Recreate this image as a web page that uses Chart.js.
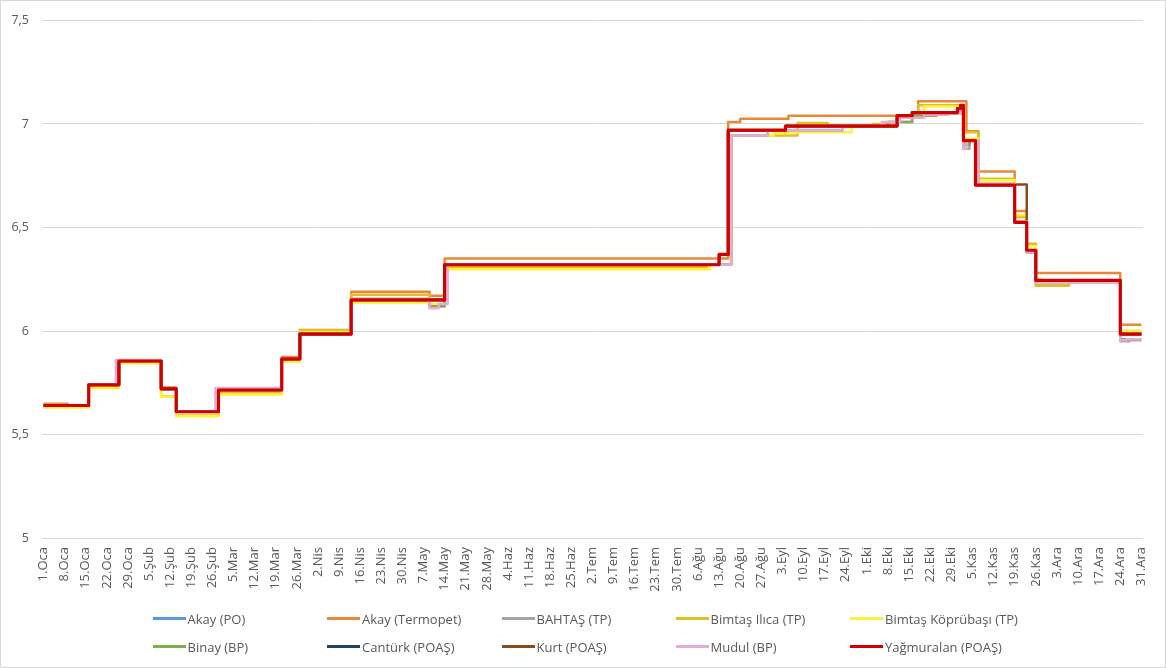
<!DOCTYPE html>
<html lang="tr">
<head>
<meta charset="utf-8">
<script src="https://cdn.jsdelivr.net/npm/chart.js@4.4.1/dist/chart.umd.min.js"></script>
<style>
  html, body { margin: 0; padding: 0; background: #ffffff; }
  #wrap { position: relative; width: 1166px; height: 668px; overflow: hidden; }
  #c { position: absolute; left: 0; top: 0; }
  #frame { position: absolute; left: 0; top: 0; width: 1166px; height: 668px; box-sizing: border-box; border: 1px solid #D9D9D9; pointer-events: none; }
  .lg { position: absolute; height: 18px; display: flex; align-items: center; font-family: "Open Sans", sans-serif; font-size: 13px; color: #595959; white-space: nowrap; }
  .lg i { display: inline-block; width: 33px; height: 2.5px; margin-right: 2px; }
</style>
</head>
<body>
<div id="wrap">
  <canvas id="c" width="1166" height="668"></canvas>
  <div id="legend"></div>
  <div id="frame"></div>
</div>
<script>
// ---- Tick labels (one every 7 days, day index 0 = 1.Oca) ----
const tickLabels = ['1.Oca','8.Oca','15.Oca','22.Oca','29.Oca','5.Şub','12.Şub','19.Şub','26.Şub',
  '5.Mar','12.Mar','19.Mar','26.Mar','2.Nis','9.Nis','16.Nis','23.Nis','30.Nis','7.May','14.May',
  '21.May','28.May','4.Haz','11.Haz','18.Haz','25.Haz','2.Tem','9.Tem','16.Tem','23.Tem','30.Tem',
  '6.Ağu','13.Ağu','20.Ağu','27.Ağu','3.Eyl','10.Eyl','17.Eyl','24.Eyl','1.Eki','8.Eki','15.Eki',
  '22.Eki','29.Eki','5.Kas','12.Kas','19.Kas','26.Kas','3.Ara','10.Ara','17.Ara','24.Ara','31.Ara'];
const tickDays = tickLabels.map((_, i) => i * 7);

// ---- Series: [day index, price] at each price change ----
const akayPO = [[0,5.64],[15,5.74],[25,5.855],[39,5.72],[44,5.61],[58,5.715],[79,5.865],[85,5.985],[102,6.15],[133,6.32],[224,6.37],[227,6.97],[246,6.99],[283,7.04],[288,7.055],[303,7.075],[304,7.09],[305,6.92],[309,6.705],[322,6.525],[326,6.39],[329,6.245],[357,5.985],[364,5.985]];
const akayTermopet = [[0,5.648],[8,5.64],[15,5.742],[25,5.857],[39,5.722],[44,5.612],[58,5.717],[79,5.875],[85,6.005],[102,6.19],[128,6.17],[133,6.35],[227,7.01],[231,7.025],[247,7.04],[290,7.11],[306,6.965],[310,6.77],[322,6.58],[326,6.42],[329,6.28],[357,6.03],[364,6.03]];
const bahtas = [[0,5.64],[15,5.74],[25,5.855],[39,5.72],[44,5.61],[58,5.72],[79,5.865],[85,5.99],[102,6.155],[128,6.12],[133,6.32],[228,6.945],[240,6.97],[265,6.99],[280,7.01],[288,7.04],[296,7.05],[304,7.085],[305,6.88],[307,6.92],[310,6.71],[322,6.53],[326,6.38],[329,6.22],[340,6.24],[357,5.95],[360,5.955],[364,5.955]];
const bimtasIlica = [[0,5.635],[15,5.73],[25,5.845],[39,5.685],[44,5.592],[58,5.70],[79,5.86],[85,6.003],[102,6.175],[128,6.15],[133,6.31],[220,6.32],[228,6.945],[250,7.005],[260,6.99],[275,7.0],[283,7.04],[290,7.09],[305,6.96],[310,6.735],[322,6.55],[326,6.42],[329,6.22],[340,6.24],[357,6.0],[364,6.0]];
const bimtasKoprubasi = [[0,5.63],[15,5.725],[25,5.845],[39,5.683],[44,5.588],[58,5.693],[79,5.852],[85,5.995],[102,6.138],[128,6.13],[133,6.298],[221,6.32],[228,6.945],[242,6.955],[247,6.96],[268,6.99],[283,7.03],[292,7.085],[304,7.085],[305,6.93],[310,6.728],[322,6.56],[326,6.41],[329,6.25],[331,6.24],[357,6.0],[364,6.0]];
const binay = [[0,5.64],[15,5.74],[25,5.857],[39,5.72],[44,5.61],[58,5.72],[79,5.865],[85,5.988],[102,6.155],[128,6.12],[133,6.32],[228,6.945],[240,6.97],[265,6.99],[280,7.01],[288,7.04],[296,7.05],[304,7.085],[305,6.9],[307,6.92],[310,6.71],[322,6.53],[326,6.38],[329,6.235],[357,5.96],[364,5.96]];
const canturk = [[0,5.64],[15,5.74],[25,5.855],[39,5.72],[44,5.61],[58,5.715],[79,5.865],[85,5.985],[102,6.15],[133,6.32],[224,6.37],[227,6.97],[246,6.99],[283,7.04],[288,7.055],[303,7.075],[304,7.09],[305,6.92],[309,6.705],[322,6.525],[326,6.39],[329,6.245],[357,5.985],[364,5.985]];
const kurt = [[0,5.64],[15,5.74],[25,5.855],[39,5.726],[44,5.61],[58,5.715],[79,5.865],[85,5.985],[102,6.15],[133,6.32],[224,6.37],[227,6.97],[246,6.99],[283,7.04],[288,7.055],[303,7.075],[304,7.09],[305,6.92],[309,6.708],[326,6.39],[329,6.245],[357,5.985],[364,5.985]];
const mudul = [[0,5.643],[15,5.742],[24,5.86],[39,5.72],[44,5.61],[57,5.725],[79,5.868],[85,5.985],[102,6.155],[128,6.11],[131,6.13],[134,6.32],[228,6.945],[240,6.97],[265,6.99],[278,7.01],[284,7.03],[292,7.045],[300,7.05],[304,7.09],[305,6.88],[306,6.92],[310,6.71],[322,6.53],[326,6.38],[329,6.235],[357,5.955],[359,5.96],[364,5.96]];
const yagmuralan = [[0,5.64],[15,5.74],[25,5.855],[39,5.72],[44,5.61],[58,5.715],[79,5.865],[85,5.985],[102,6.15],[133,6.32],[224,6.37],[227,6.97],[246,6.99],[283,7.04],[288,7.055],[303,7.075],[304,7.09],[305,6.92],[309,6.705],[322,6.525],[326,6.39],[329,6.245],[357,5.985],[364,5.985]];

const seriesNames = ['Akay (PO)','Akay (Termopet)','BAHTAŞ (TP)','Bimtaş Ilıca (TP)','Bimtaş Köprübaşı (TP)',
  'Binay (BP)','Cantürk (POAŞ)','Kurt (POAŞ)','Mudul (BP)','Yağmuralan (POAŞ)'];
const seriesData = [akayPO, akayTermopet, bahtas, bimtasIlica, bimtasKoprubasi, binay, canturk, kurt, mudul, yagmuralan];
const seriesColors = ['#5B9BD5','#E8883A','#A5A5A5','#E0C020','#FFF23A','#7FAF4A','#22455F','#8A4A1C','#E8A9D8','#D00000'];
const seriesWidths = [2.5,2.5,2.5,2.5,2.5,2.5,2.5,2.5,2.5,3.2];

const FONT = '"Open Sans", sans-serif';
const TXT = '#595959';

const datasets = seriesNames.map((name, i) => ({
  label: name,
  data: seriesData[i].map(([x, y]) => ({ x, y })),
  borderColor: seriesColors[i],
  backgroundColor: seriesColors[i],
  borderWidth: seriesWidths[i],
  stepped: true,
  pointRadius: 0,
  pointHoverRadius: 0,
  fill: false,
  borderJoinStyle: 'round',
  order: seriesNames.length - i
}));

new Chart(document.getElementById('c'), {
  type: 'line',
  data: { datasets },
  options: {
    responsive: false,
    animation: false,
    devicePixelRatio: 1,
    layout: { padding: { left: 0, right: 19, top: 18, bottom: 0 } },
    plugins: { legend: { display: false }, tooltip: { enabled: false } },
    scales: {
      x: {
        type: 'linear',
        min: -0.5,
        max: 364.5,
        grid: { display: false, drawTicks: false },
        border: { display: false },
        afterBuildTicks: (s) => { s.ticks = tickDays.map(v => ({ value: v })); },
        afterFit: (s) => { s.height = 130; },
        ticks: {
          autoSkip: false,
          minRotation: 90,
          maxRotation: 90,
          padding: 9,
          color: TXT,
          font: { family: FONT, size: 13 },
          callback: (v) => tickLabels[tickDays.indexOf(v)]
        }
      },
      y: {
        min: 5,
        max: 7.5,
        grid: { color: '#D9D9D9', lineWidth: 1, drawTicks: false },
        border: { display: false },
        afterFit: (s) => { s.width = 42; },
        ticks: {
          stepSize: 0.5,
          padding: 13,
          color: TXT,
          font: { family: FONT, size: 12.5 },
          callback: (v) => String(v).replace('.', ',')
        }
      }
    }
  }
});

// ---- Legend (two rows of five) ----
const legend = document.getElementById('legend');
const colText = [187.5, 362, 536.5, 710.5, 885];
const rowMid = [618.5, 646.5];
seriesNames.forEach((name, i) => {
  const d = document.createElement('div');
  d.className = 'lg';
  d.style.left = (colText[i % 5] - 35) + 'px';
  d.style.top = (rowMid[Math.floor(i / 5)] - 9) + 'px';
  const sw = document.createElement('i');
  sw.style.background = seriesColors[i];
  d.appendChild(sw);
  d.appendChild(document.createTextNode(name));
  legend.appendChild(d);
});
</script>
</body>
</html>
